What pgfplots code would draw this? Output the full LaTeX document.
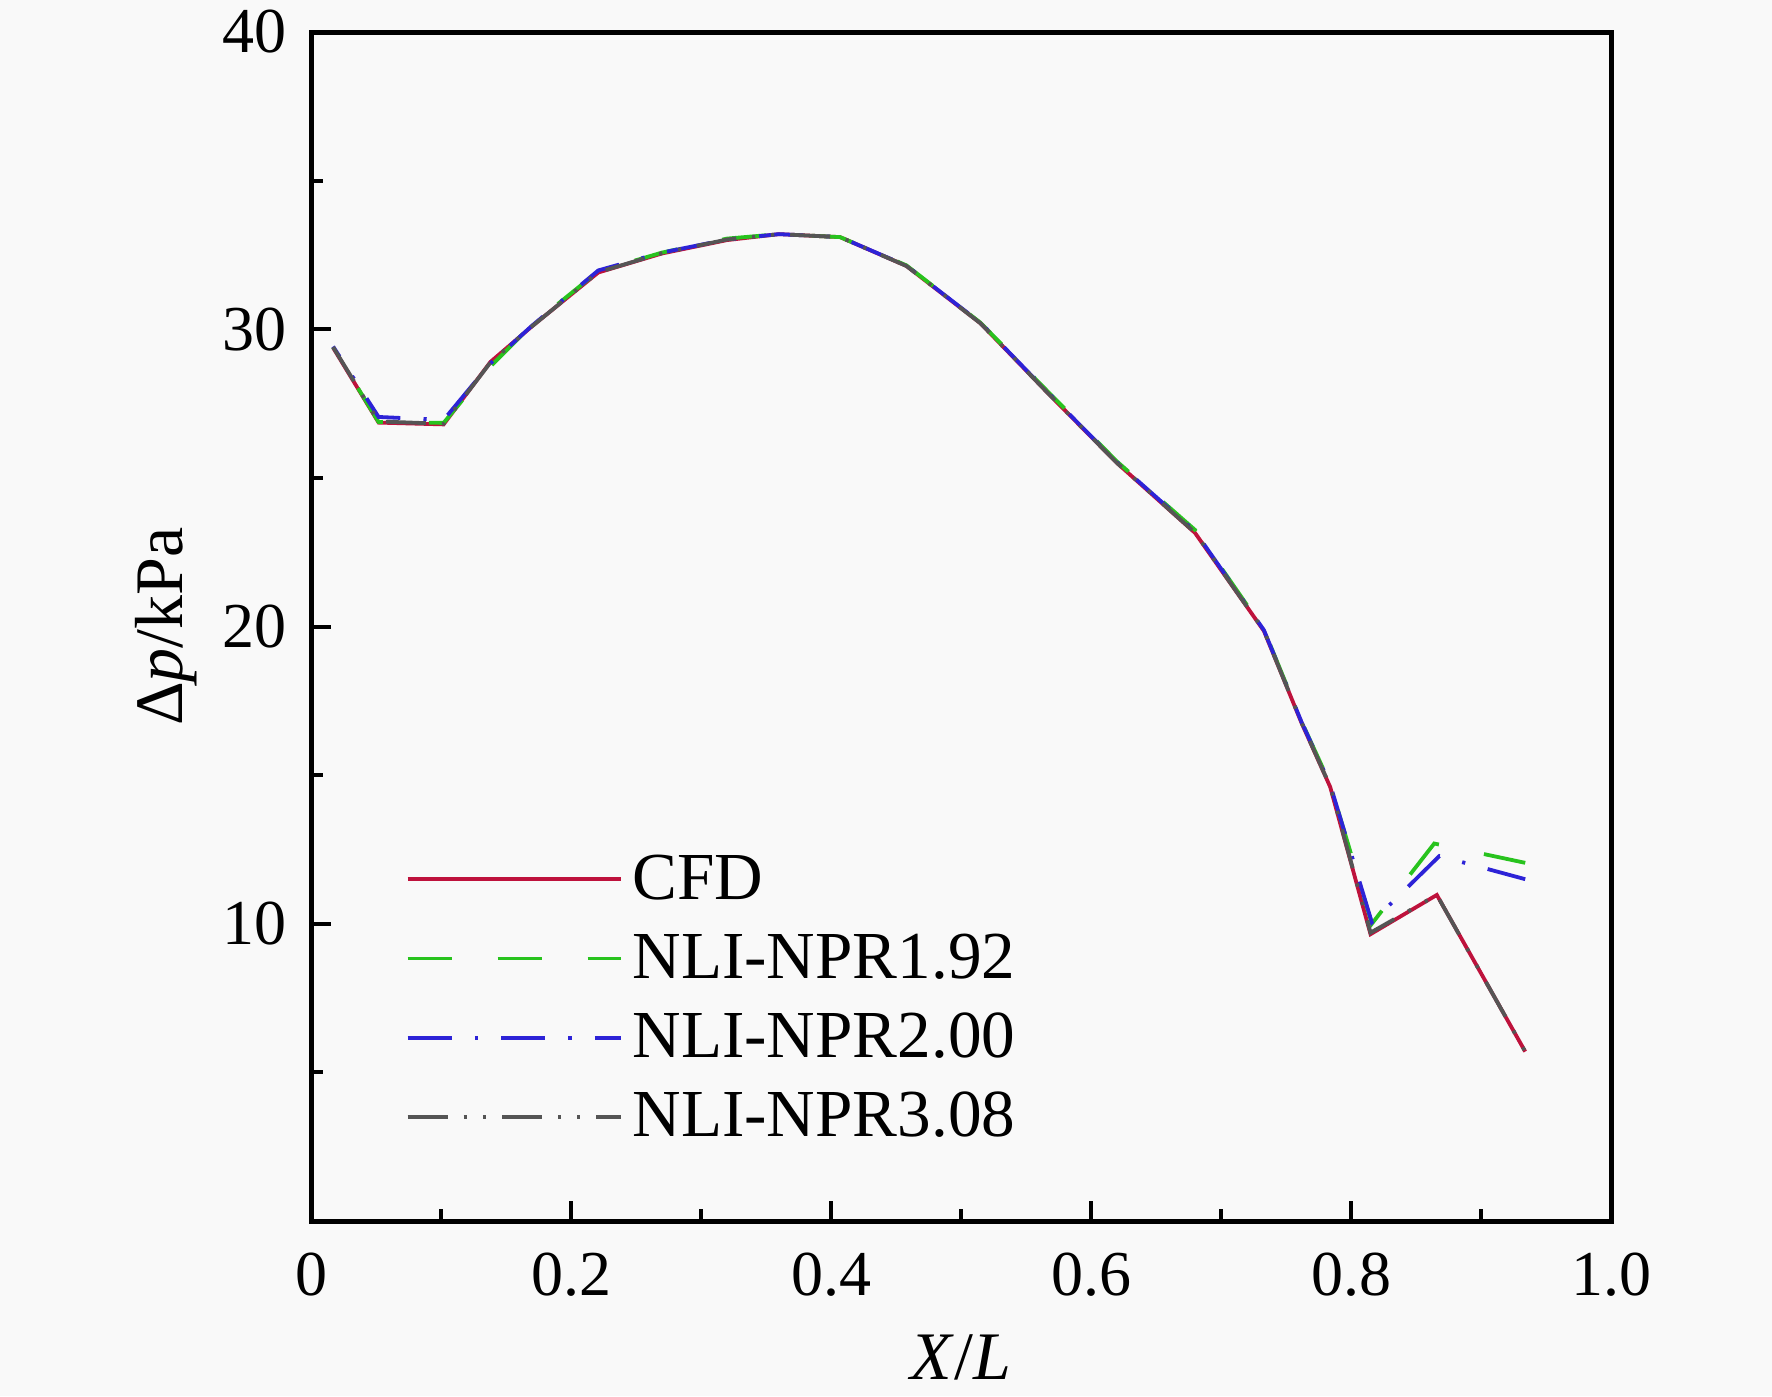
\documentclass[border=0pt]{standalone}
\usepackage{fontspec}
\setmainfont{Liberation Serif}
\usepackage{pgfplots}
\pgfplotsset{compat=1.18}
\definecolor{cfdred}{RGB}{190,18,60}
\definecolor{nligreen}{RGB}{40,195,30}
\definecolor{nliblue}{RGB}{45,35,215}
\definecolor{nligray}{RGB}{85,85,85}
\definecolor{bgc}{RGB}{249,249,249}
\begin{document}
\begin{tikzpicture}
\fill[bgc,use as bounding box] (-77.75pt,-43.75pt) rectangle (365.25pt,305.25pt);
\begin{axis}[
  at={(0,0)}, anchor=south west,
  scale only axis, width=325pt, height=297.25pt,
  xmin=0, xmax=1, ymin=0, ymax=40,
  xtick={0,0.2,0.4,0.6,0.8,1.0},
  xticklabels={0,0.2,0.4,0.6,0.8,1.0},
  minor xtick={0.1,0.3,0.5,0.7,0.9},
  ytick={10,20,30,40},
  minor ytick={5,15,25,35},
  tick pos=left, tick align=inside,
  major tick length=5pt, minor tick length=3pt,
  tick style={line width=1pt, black},
  axis line style={line width=1.25pt},
  /pgf/number format/assume math mode=true,
  ticklabel style={font=\fontsize{16}{19}\selectfont},
  xticklabel style={anchor=base, inner sep=0pt, yshift=-18.5pt},
  yticklabel style={anchor=east, inner sep=0pt, xshift=-6pt},
  every axis x label/.style={at={(axis description cs:0.5,-0.1329)}, anchor=base, font=\fontsize{17}{20}\selectfont},
  every axis y label/.style={at={(axis description cs:-0.0992,0.5)}, rotate=90, anchor=base, font=\fontsize{17}{20}\selectfont},
  xlabel={\textit{X}/\textit{L}},
  ylabel={Δ\textit{p}/kPa},
  legend image code/.code={\draw[#1, dash phase=0pt] (0pt,0pt) -- (53.25pt,0pt);},
  legend style={at={(axis description cs:0.0723,0.3117)}, anchor=north west,
    draw=none, fill=none, inner sep=0pt, row sep=5.8pt, column sep=2.5pt,
    font=\fontsize{16.8}{20}\selectfont,
    nodes={inner sep=0pt, text height=12pt, text depth=2pt}},
  legend cell align=left,
]
\addplot[cfdred, line width=0.95pt] coordinates {
(0.017,29.38) (0.052,26.86) (0.102,26.80) (0.138,28.90) (0.170,30.10)
(0.221,31.91) (0.270,32.55) (0.320,33.00) (0.360,33.20) (0.407,33.10)
(0.458,32.13) (0.515,30.20) (0.568,27.80) (0.620,25.50) (0.680,23.15)
(0.733,19.85) (0.762,16.75) (0.784,14.60) (0.815,9.65) (0.866,10.97)
(0.934,5.70)};
\addlegendentry{CFD}
\addplot[nligreen, line width=0.95pt, dash pattern=on 11pt off 11.5pt, dash phase=10.5pt] coordinates {
(0.017,29.40) (0.052,26.88) (0.102,26.85) (0.138,28.75) (0.170,30.15)
(0.221,31.95) (0.270,32.58) (0.320,33.05) (0.360,33.20) (0.407,33.10)
(0.458,32.15) (0.515,30.22) (0.568,27.85) (0.620,25.55) (0.680,23.25)
(0.733,19.90) (0.762,16.80) (0.784,14.70) (0.816,10.00) (0.864,12.70)
(0.934,12.05)};
\addlegendentry{NLI-NPR1.92}
\addplot[nliblue, line width=0.95pt, dash pattern=on 11pt off 5.8pt on 0.8pt off 5.8pt, dash phase=8pt] coordinates {
(0.017,29.42) (0.052,27.05) (0.102,26.95) (0.138,28.85) (0.170,30.12)
(0.221,31.98) (0.270,32.58) (0.320,33.02) (0.360,33.20) (0.407,33.10)
(0.458,32.14) (0.515,30.22) (0.568,27.82) (0.620,25.52) (0.680,23.20)
(0.733,19.88) (0.762,16.78) (0.784,14.68) (0.816,10.05) (0.868,12.28)
(0.934,11.50)};
\addlegendentry{NLI-NPR2.00}
\addplot[nligray, line width=0.95pt, dash pattern=on 10pt off 4pt on 0.8pt off 4pt on 0.8pt off 4pt] coordinates {
(0.017,29.40) (0.052,26.90) (0.102,26.82) (0.138,28.88) (0.170,30.10)
(0.221,31.92) (0.270,32.56) (0.320,33.02) (0.360,33.20) (0.407,33.10)
(0.458,32.13) (0.515,30.20) (0.568,27.80) (0.620,25.50) (0.680,23.16)
(0.733,19.86) (0.762,16.76) (0.784,14.62) (0.815,9.70) (0.866,10.97)
(0.934,5.70)};
\addlegendentry{NLI-NPR3.08}
\end{axis}
\end{tikzpicture}
\end{document}
